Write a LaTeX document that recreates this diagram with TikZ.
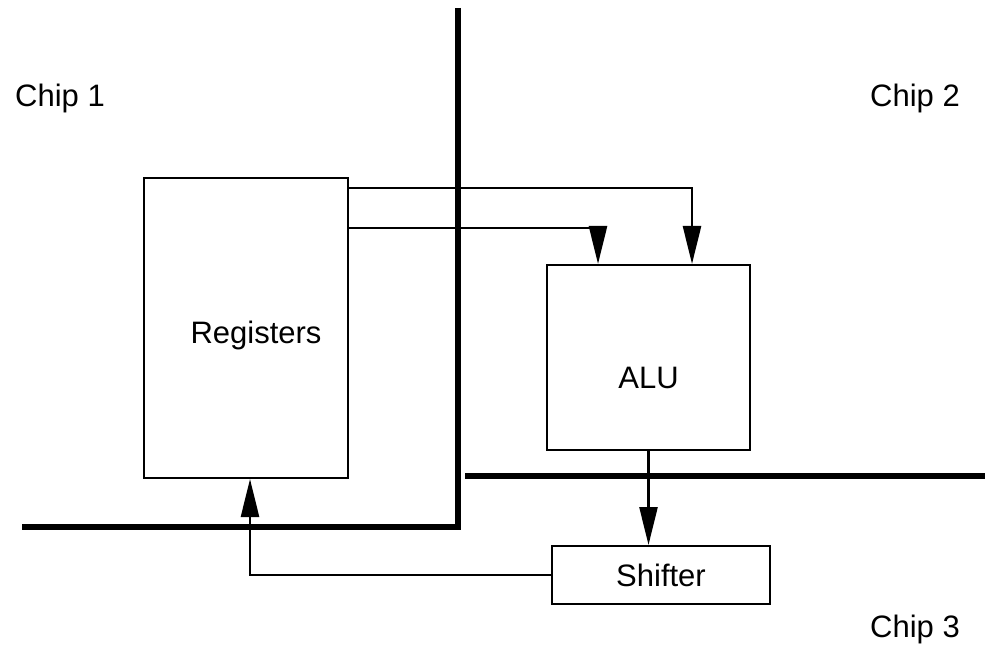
\documentclass[tikz,border=0pt]{standalone}
\usepackage{fontspec}
\setmainfont{Liberation Sans}
\usetikzlibrary{arrows.meta,positioning,calc}

\tikzset{
  blockbox/.style={draw, line width=2pt, inner sep=0pt},
  divider/.style={line width=5.5pt},
  flowarr/.style={line width=2.5pt, -{Triangle[length=38pt, width=18pt]}},
  flowline/.style={line width=2.5pt},
  chiplabel/.style={anchor=base, inner sep=0pt}
}

\begin{document}
\begin{tikzpicture}[x=1pt, y=-1pt, font=\fontsize{31}{36}\selectfont]
  \useasboundingbox (0,0) rectangle (985,647);
  % --- chip boundaries ---
  \draw[divider] (458,8) -- (458,527) -- (22,527);
  \draw[divider] (465,476) -- (985,476);
  % chip labels
  \node[chiplabel] (chipone)   at (60,107)  {Chip 1};
  \node[chiplabel] (chiptwo)   at (915,107) {Chip 2};
  \node[chiplabel] (chipthree) at (915,637) {Chip 3};
  % blocks
  \node[blockbox, minimum width=204pt, minimum height=300pt] (reg) at (246,328) {};
  \node[blockbox, minimum width=203pt, minimum height=185pt] (alu) at (648.5,357.5) {};
  \node[blockbox, minimum width=218pt, minimum height=58pt] (shift) at (661,575) {Shifter};
  \node[inner sep=0pt] (regtext) at ([xshift=10pt, yshift=-7pt]reg.center) {Registers};
  \node[inner sep=0pt] (alutext) at ([yshift=-20pt]alu.center) {ALU};
  % data paths
  \draw[flowarr] ([yshift=-11pt]reg.north east) -| ([xshift=43.5pt]alu.north);
  \draw[flowarr] ([yshift=-51pt]reg.north east) -| ([xshift=-50.5pt]alu.north);
  \draw[flowarr] (alu.south) -- (alu.south |- shift.north);
  \draw[flowarr] (shift.west) -| ([xshift=4pt]reg.south);
\end{tikzpicture}
\end{document}
